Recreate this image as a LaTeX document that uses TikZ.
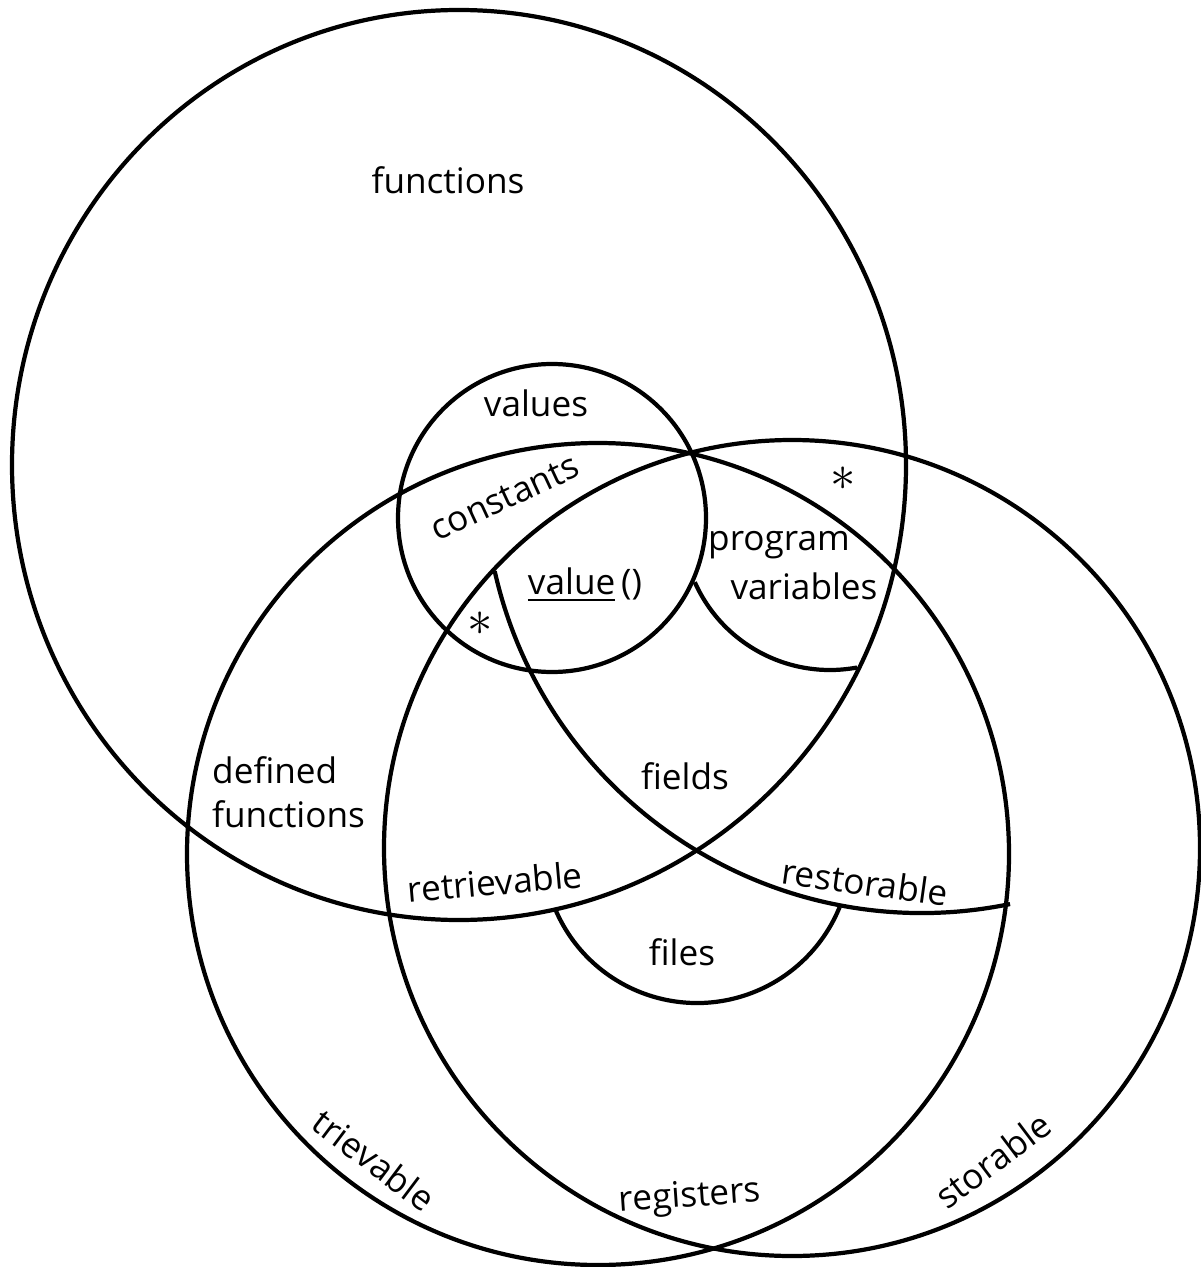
\documentclass[tikz,border=0pt]{standalone}
\usepackage{fontspec}
\setmainfont{Open Sans}
\tikzset{
    set/.style={line width=1.2pt},
    lbl/.style={font=\fontsize{10}{12.5}\selectfont, inner sep=1pt},
    astmark/.style={font=\Large, inner sep=0pt}
}
\begin{document}
\begin{tikzpicture}[x=0.01cm, y=-0.01cm]
    \useasboundingbox (0,0) rectangle (1200,1267);
    % whole sets
    \draw[set] (459,465) ellipse [x radius=447, y radius=455];
    \draw[set] (552,518) circle [radius=154];
    \draw[set] (598,854) circle [radius=411];
    \draw[set] (792,848) circle [radius=408];
    % partial boundaries
    \coordinate (pc) at (830,522);
    \coordinate (rc) at (922,475);
    \coordinate (fc) at (697,849);
    \draw[set] (pc) ++(156:148) arc [start angle=156, end angle=79.5, radius=148];
    \draw[set] (rc) ++(167.3:438) arc [start angle=167.3, end angle=78.4, radius=438];
    \draw[set] (fc) ++(157.4:154) arc [start angle=157.4, end angle=22.1, radius=154];
    % labels
    \node[lbl] (fun) at (448,180)
            {functions};
    \node[lbl] (val) at (536,403)
            {values};
    \node[lbl, rotate=25] (con) at (505,498)
            {constants};
    \node[lbl] (vfn) at (585,585)
            {\underline{value}\,()};
    \node[lbl] (prog) at (779,545)
            {program};
    \node[lbl] (pvar) at (804,586)
            {variables};
    \node[lbl, align=left, anchor=west] (dfun) at (208,792)
            {defined\\functions};
    \node[lbl] (fld) at (685,776)
            {fields};
    \node[lbl, rotate=5] (retr) at (495,882)
            {retrievable};
    \node[lbl, rotate=-8] (rest) at (865,882)
            {restorable};
    \node[lbl] (fil) at (682,952)
            {files};
    \node[lbl, rotate=-37] (trv) at (374,1160)
            {trievable};
    \node[lbl, rotate=4] (reg) at (690,1198)
            {registers};
    \node[lbl, rotate=37] (stb) at (993,1160)
            {storable};
    \node[astmark] (s1) at (480,624)
            {$\ast$};
    \node[astmark] (s2) at (843,479)
            {$\ast$};
\end{tikzpicture}
\end{document}
